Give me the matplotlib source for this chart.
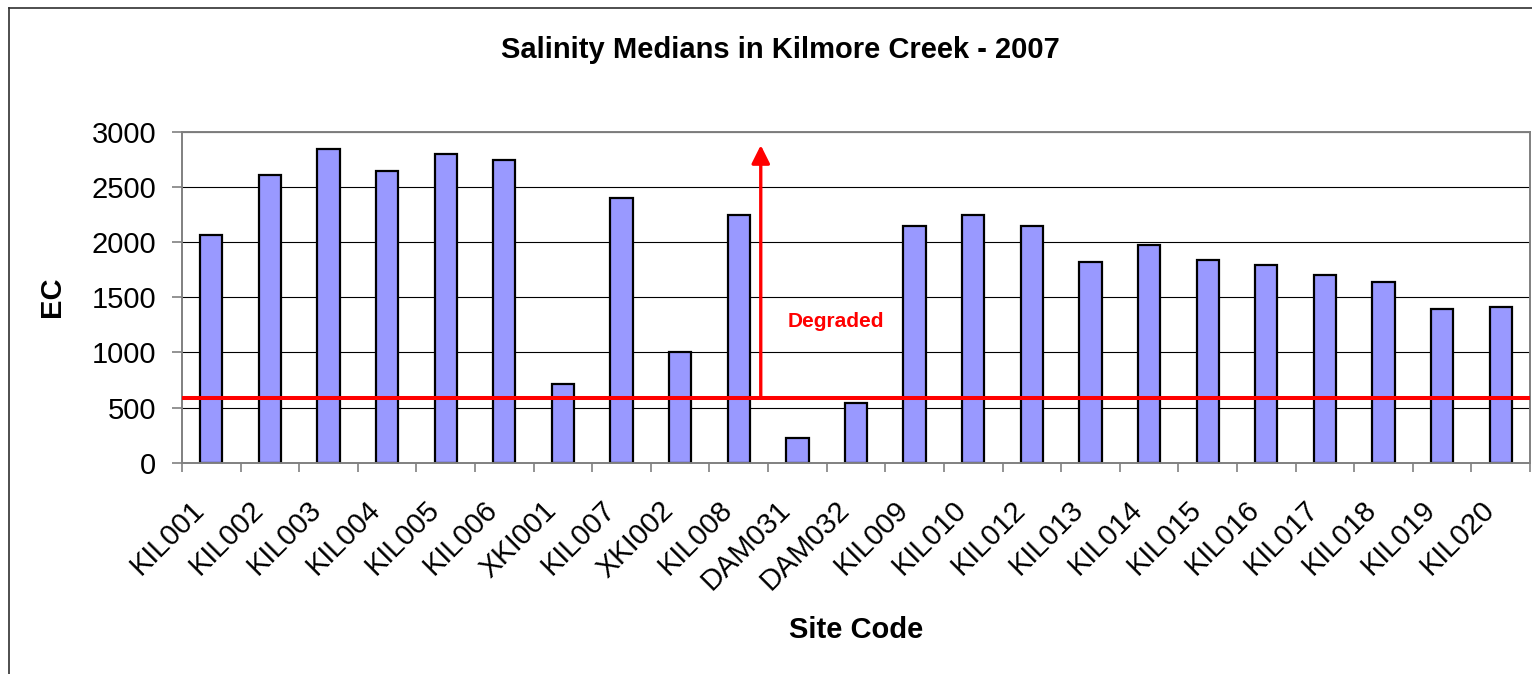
import matplotlib

matplotlib.use("Agg")
import matplotlib.pyplot as plt
from matplotlib.lines import Line2D
from matplotlib.transforms import ScaledTranslation

sites = ["KIL001", "KIL002", "KIL003", "KIL004", "KIL005", "KIL006", "XKI001",
         "KIL007", "XKI002", "KIL008", "DAM031", "DAM032", "KIL009", "KIL010",
         "KIL012", "KIL013", "KIL014", "KIL015", "KIL016", "KIL017", "KIL018",
         "KIL019", "KIL020"]
ec_median = [2060, 2607, 2843, 2640, 2798, 2743, 713, 2402, 1006, 2248, 220,
             544, 2145, 2248, 2145, 1822, 1976, 1840, 1789, 1701, 1634, 1396,
             1411]
degraded_level = 585
arrow_top = 2878
yticks = [0, 500, 1000, 1500, 2000, 2500, 3000]

plt.rcParams["font.family"] = ["Liberation Sans", "DejaVu Sans"]

W, H = 1532, 674
fig = plt.figure(figsize=(W / 100, H / 100), dpi=100)
fig.patch.set_facecolor("white")
ax = fig.add_axes([182 / W, 1 - 462.7 / H, 1348 / W, 331 / H])

x = list(range(len(sites)))
ax.bar(x, ec_median, width=0.38, color="#9999FF", edgecolor="black", lw=1.6, zorder=2)

ax.axhline(degraded_level, color="#FF0000", lw=2.9, zorder=3)
ax.annotate("", xy=(9.375, arrow_top), xytext=(9.375, degraded_level),
            arrowprops=dict(arrowstyle="-|>,head_length=1.0,head_width=0.5",
                            mutation_scale=11, color="#FF0000", lw=2.4,
                            shrinkA=0, shrinkB=0), zorder=3)
ax.text(10.65, 1229, "Degraded", color="#FF0000", fontsize=15, fontweight="bold",
        ha="center", va="baseline")

ax.set_xlim(-0.5, len(sites) - 0.5)
ax.set_ylim(0, 3000)
ax.set_yticks(yticks)
ax.yaxis.grid(True, color="black", lw=0.8, zorder=1)
ax.set_axisbelow(True)
for s in ax.spines.values():
    s.set_color("#808080")
    s.set_linewidth(1.4)

ax.tick_params(axis="y", direction="out", length=7.2, width=1.2, color="#808080",
               pad=11.5, labelsize=21)
ax.set_xticks(x)
ax.set_xticklabels(sites, rotation=45, ha="right", va="center",
                   rotation_mode="anchor", fontsize=21)
ax.tick_params(axis="x", which="major", length=0, pad=31)
ax.set_xticks([i - 0.5 for i in range(len(sites) + 1)], minor=True)
ax.tick_params(axis="x", which="minor", direction="out", length=6.5, width=1.2,
               color="#808080")
shift = ScaledTranslation(-11 / 100, 0, fig.dpi_scale_trans)
for lab in ax.get_xticklabels():
    lab.set_transform(lab.get_transform() + shift)

ax.set_ylabel("EC", fontsize=21, fontweight="bold")
ax.yaxis.label.set_va("center")
ax.yaxis.set_label_coords((51.7 - 182) / 1348, 0.5)
ax.set_xlabel("Site Code", fontsize=21, fontweight="bold")
ax.xaxis.set_label_coords(0.5, (462.7 - 630) / 331)
ax.xaxis.label.set_va("center")

fig.text(780 / W, 1 - 58 / H, "Salinity Medians in Kilmore Creek - 2007",
         fontsize=21, fontweight="bold", ha="center", va="baseline")

# chart area border (cropped on right and bottom)
fig.add_artist(Line2D([9 / W, 1], [1 - 8 / H, 1 - 8 / H], color="#303030", lw=1.2))
fig.add_artist(Line2D([9 / W, 9 / W], [0, 1 - 8 / H], color="#303030", lw=1.2))

fig.savefig("out.png", dpi=100)
